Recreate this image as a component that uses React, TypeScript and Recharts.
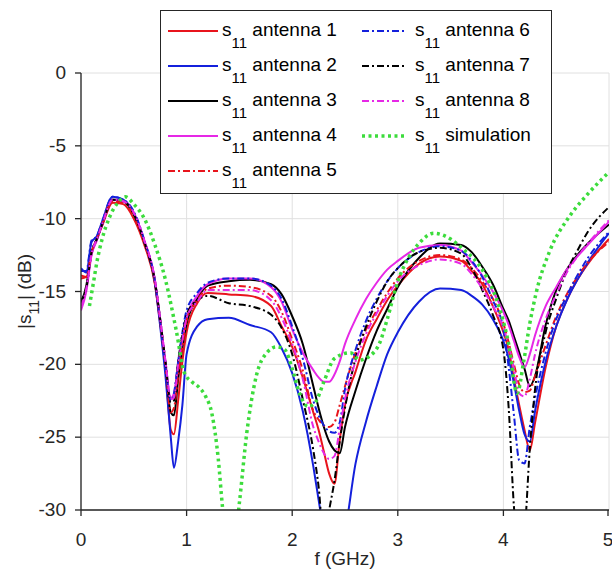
import { LineChart, Line, XAxis, YAxis, CartesianGrid, Legend, Label } from 'recharts'

// frequency grid (GHz) shared by the measured antennas
const freq = [
  0, 0.05, 0.1, 0.15, 0.2, 0.3, 0.4, 0.5, 0.6, 0.7,
  0.75, 0.8, 0.85, 0.88, 0.92, 0.96, 1.0, 1.1, 1.2, 1.4,
  1.6, 1.8, 1.9, 2.0, 2.1, 2.2, 2.25, 2.3, 2.35, 2.4,
  2.45, 2.5, 2.6, 2.7, 2.8, 2.9, 3.0, 3.2, 3.4, 3.6,
  3.7, 3.8, 3.9, 4.0, 4.05, 4.1, 4.15, 4.2, 4.25, 4.3,
  4.4, 4.5, 4.6, 4.7, 4.8, 5.0,
]

// |s11| in dB, measured
const ant1 = [
  -13.9, -14.0, -12.3, -11.4, -10.5, -8.9, -9.0, -10.0, -11.8, -14.5,
  -17.2, -20.3, -24.5, -24.8, -22.5, -19.8, -17.8, -15.8, -15.1, -15.2,
  -15.3, -16.0, -17.4, -18.8, -20.9, -23.3, -24.5, -26.0, -27.5, -28.2,
  -25.2, -22.8, -20.5, -18.3, -16.9, -15.6, -14.6, -13.1, -12.6, -12.9,
  -13.6, -14.5, -16.0, -17.8, -19.0, -21.0, -22.8, -24.5, -25.9, -24.0,
  -20.2, -17.4, -15.6, -14.2, -13.1, -11.4,
]
const ant2 = [
  -13.4, -13.7, -11.6, -11.2, -10.2, -8.5, -8.7, -9.6, -11.6, -14.4,
  -17.4, -20.8, -25.0, -27.1, -25.3, -22.8, -19.3, -17.4, -16.9, -16.8,
  -17.3, -17.8, -18.9, -20.6, -23.2, -27.0, -29.3, -31.5, -33.0, -34.0,
  -33.0, -31.5, -26.8, -23.9, -21.5, -19.3, -17.8, -15.7, -14.8, -14.9,
  -15.3, -15.9, -16.9, -18.4, -19.6, -21.3, -23.2, -24.8, -25.3, -23.2,
  -19.8, -17.4, -15.6, -14.2, -13.0, -11.0,
]
const ant3 = [
  -15.8, -14.6, -12.4, -11.4, -10.4, -8.7, -8.8, -9.7, -11.6, -14.3,
  -17.0, -20.0, -23.3, -23.5, -21.0, -18.8, -17.2, -15.5, -14.6, -14.3,
  -14.2, -14.5, -15.2, -16.7, -18.6, -21.5, -23.0, -24.3, -25.3, -25.9,
  -26.1, -24.3, -21.8, -19.6, -17.7, -16.2, -14.7, -12.7, -11.7, -11.8,
  -12.3, -13.3, -14.5, -16.2, -17.0, -18.1, -19.2, -20.3, -21.5, -20.8,
  -17.3, -14.9, -13.5, -12.5, -11.7, -10.4,
]
const ant4 = [
  -16.3, -15.0, -12.5, -11.5, -10.4, -8.7, -8.8, -9.6, -11.5, -14.2,
  -16.9, -19.8, -22.3, -22.0, -20.0, -18.3, -16.8, -15.3, -14.5, -14.1,
  -14.1, -14.7, -15.7, -17.6, -19.2, -20.4, -20.9, -21.2, -21.2, -20.7,
  -19.8, -18.6, -16.9, -15.5, -14.4, -13.5, -12.9, -12.0, -11.8, -12.2,
  -13.0, -13.9, -15.0, -16.4, -17.3, -18.4, -19.5, -20.2, -19.3, -18.0,
  -16.0, -14.7, -13.5, -12.6, -11.8, -10.2,
]
const ant5 = [
  -14.1, -14.0, -12.3, -11.4, -10.4, -8.8, -8.9, -9.8, -11.7, -14.4,
  -17.1, -20.1, -23.3, -23.0, -20.8, -18.8, -17.0, -15.6, -14.8, -14.6,
  -14.7, -15.3, -16.4, -18.3, -20.4, -23.2, -23.8, -24.2, -24.3, -24.0,
  -22.8, -21.5, -19.2, -17.6, -16.3, -15.1, -14.1, -12.9, -12.5, -12.8,
  -13.4, -14.3, -15.5, -17.2, -18.5, -20.0, -21.4, -21.9, -21.8, -20.8,
  -18.7, -16.7, -15.2, -14.0, -13.0, -11.6,
]
const ant6 = [
  -13.6, -13.6, -11.5, -11.2, -10.2, -8.5, -8.7, -9.5, -11.5, -14.3,
  -17.1, -20.2, -22.5, -22.0, -19.8, -17.8, -16.3, -15.1, -14.4, -14.1,
  -14.1, -14.6, -15.5, -17.4, -19.6, -22.5, -23.5, -24.2, -24.6, -24.7,
  -24.0, -21.7, -19.0, -17.0, -15.5, -14.3, -13.4, -12.3, -11.9, -12.2,
  -12.9, -14.0, -15.6, -17.6, -20.2, -23.5, -26.6, -26.8, -24.3, -22.3,
  -19.2, -16.9, -15.3, -13.9, -12.7, -10.9,
]
const ant7 = [
  -15.6, -14.8, -12.3, -11.4, -10.4, -8.7, -8.8, -9.7, -11.6, -14.3,
  -16.9, -19.8, -22.6, -22.5, -19.8, -18.0, -16.6, -15.6, -15.3, -15.8,
  -16.0, -16.6, -17.5, -19.3, -22.4, -25.9, -28.4, -32.0, -30.0, -28.0,
  -25.3, -23.0, -19.6, -17.4, -15.7, -14.3, -13.4, -12.3, -12.0, -12.4,
  -13.4, -14.9, -16.6, -19.0, -23.0, -29.8, -33.0, -31.5, -25.8, -21.7,
  -17.8, -15.5, -13.6, -12.2, -10.9, -9.2,
]
const ant8 = [
  -16.0, -14.8, -12.4, -11.4, -10.4, -8.7, -8.8, -9.6, -11.5, -14.2,
  -16.9, -19.8, -22.4, -22.3, -20.0, -18.3, -16.8, -15.7, -14.9, -14.9,
  -14.9, -15.6, -16.8, -18.6, -21.0, -24.3, -25.3, -26.1, -26.5, -26.3,
  -24.4, -22.4, -19.8, -17.9, -16.5, -15.3, -14.3, -13.2, -12.8, -13.1,
  -13.8, -14.8, -16.0, -17.5, -18.7, -20.3, -22.0, -22.2, -21.0, -19.3,
  -16.9, -15.2, -13.7, -12.6, -11.7, -10.1,
]

// simulation has its own frequency points
const simFreq = [
  0.08, 0.12, 0.15, 0.2, 0.27, 0.35, 0.42, 0.5, 0.6, 0.7,
  0.8, 0.9, 0.98, 1.05, 1.12, 1.18, 1.24, 1.3, 1.34, 1.42,
  1.5, 1.57, 1.66, 1.76, 1.85, 1.93, 2.0, 2.07, 2.15, 2.22,
  2.3, 2.4, 2.55, 2.64, 2.74, 2.83, 2.9, 3.0, 3.1, 3.2,
  3.34, 3.5, 3.62, 3.75, 3.84, 3.97, 4.05, 4.13, 4.19, 4.25,
  4.31, 4.44, 4.62, 4.8, 5.0,
]
const simVals = [
  -16.0, -14.3, -13.0, -11.4, -9.9, -8.9, -8.5, -9.0, -10.0, -11.8,
  -14.2, -17.6, -20.6, -21.2, -21.6, -22.2, -23.4, -26.5, -29.8, -34.0,
  -29.5, -24.7, -20.8, -19.2, -18.8, -19.0, -20.3, -22.0, -22.9, -22.6,
  -21.2, -19.6, -19.2, -19.7, -19.4, -18.5, -16.9, -14.3, -12.7, -11.7,
  -11.0, -11.4, -12.1, -13.0, -14.0, -16.3, -18.6, -22.0, -19.9, -17.2,
  -15.1, -12.2, -9.9, -8.3, -6.8,
]

const xTicks = [0, 1, 2, 3, 4, 5]
const yTicks = [-30, -25, -20, -15, -10, -5, 0]

const antennas = [ant1, ant2, ant3, ant4, ant5, ant6, ant7, ant8]
const data = freq.map((f, i) => {
  const row: Record<string, number> = { f }
  antennas.forEach((a, k) => { row['a' + (k + 1)] = a[i] })
  return row
})
const simData = simFreq.map((f, i) => ({ f, sim: simVals[i] }))

const RED = '#e8141c'
const BLUE = '#1420dc'
const BLACK = '#000000'
const MAGENTA = '#e628e6'
const GREEN = '#3cdc3c'
const AXIS = '#262626'
const FONT = '"Liberation Sans", Arial, sans-serif'
const DASHDOT = '7 3 2 3'
const DOTS = '3 3.5'

const series = [
  { key: 'a1', label: 'antenna 1', color: RED, dash: undefined },
  { key: 'a2', label: 'antenna 2', color: BLUE, dash: undefined },
  { key: 'a3', label: 'antenna 3', color: BLACK, dash: undefined },
  { key: 'a4', label: 'antenna 4', color: MAGENTA, dash: undefined },
  { key: 'a5', label: 'antenna 5', color: RED, dash: DASHDOT },
  { key: 'a6', label: 'antenna 6', color: BLUE, dash: DASHDOT },
  { key: 'a7', label: 'antenna 7', color: BLACK, dash: DASHDOT },
  { key: 'a8', label: 'antenna 8', color: MAGENTA, dash: DASHDOT },
  { key: 'sim', label: 'simulation', color: GREEN, dash: DOTS },
]

const YTick = ({ x, y, payload }: any) => (
  <g>
    <line x1={x + 9} x2={x + 15} y1={y} y2={y} stroke={AXIS} strokeWidth={1.3} />
    <text x={x} y={y} dy={6} textAnchor="end" fontSize={19} fontFamily={FONT} fill={AXIS}>
      {payload.value}
    </text>
  </g>
)

const XTick = ({ x, y, payload }: any) => (
  <g>
    <line x1={x} x2={x} y1={y - 10} y2={y - 16} stroke={AXIS} strokeWidth={1.3} />
    <text x={x} y={y + 20} textAnchor="middle" fontSize={19} fontFamily={FONT} fill={AXIS}>
      {payload.value}
    </text>
  </g>
)

const LegendBox = () => (
  <svg width={392} height={184} style={{ display: 'block' }}>
    <rect x={0.5} y={0.5} width={391} height={183} fill="#fff" stroke={AXIS} strokeWidth={1} />
    {series.map((s, i) => {
      const col = i < 5 ? 0 : 1
      const row = col ? i - 5 : i
      const y = 21 + row * 35
      const lx = col ? 202 : 8
      const lw = col ? 45 : 50
      const tx = col ? 255 : 62
      return (
        <g key={s.key}>
          <line x1={lx} x2={lx + lw} y1={y} y2={y} stroke={s.color}
            strokeWidth={s.key === 'sim' ? 3.5 : 2} strokeDasharray={s.dash} />
          <text x={tx} y={y + 5} fontSize={19} fontFamily={FONT} fill="#000">
            <tspan>s</tspan>
            <tspan dy={12} fontSize={15}>11</tspan>
            <tspan dy={-12}>{' ' + s.label}</tspan>
          </text>
        </g>
      )
    })}
  </svg>
)

const YLabel = ({ viewBox }: any) => {
  const cx = 31
  const cy = viewBox.y + viewBox.height / 2
  return (
    <text x={cx} y={cy} transform={`rotate(-90, ${cx}, ${cy})`} textAnchor="middle"
      fontSize={19} fontFamily={FONT} fill={AXIS}>
      <tspan>|s</tspan>
      <tspan dy={8} fontSize={14}>11</tspan>
      <tspan dy={-8}>| (dB)</tspan>
    </text>
  )
}

const XLabel = ({ viewBox }: any) => (
  <text x={viewBox.x + viewBox.width / 2} y={565} textAnchor="middle"
    fontSize={19} fontFamily={FONT} fill={AXIS}>
    f (GHz)
  </text>
)

export default function App() {
  return (
    <div style={{ position: 'absolute', left: 0, top: 0, width: 612, height: 570, background: '#fff' }}>
      <LineChart width={612} height={570} data={data}
        margin={{ top: 73, right: 3, left: 0, bottom: 0 }}>
        <CartesianGrid stroke="#e0e0e0" strokeWidth={1} />
        <XAxis dataKey="f" type="number" domain={[0, 5]} ticks={xTicks} allowDataOverflow
          height={60} tickLine={false} tickMargin={10} tick={<XTick />}
          axisLine={{ stroke: AXIS, strokeWidth: 1.3 }}>
          <Label content={<XLabel />} />
        </XAxis>
        <YAxis type="number" domain={[-30, 0]} ticks={yTicks} allowDataOverflow
          width={81} tickLine={false} tickMargin={9} tick={<YTick />}
          axisLine={{ stroke: AXIS, strokeWidth: 1.3 }}>
          <Label content={<YLabel />} />
        </YAxis>
        {series.slice(0, 8).map((s) => (
          <Line key={s.key} dataKey={s.key} type="monotone" stroke={s.color} strokeWidth={2}
            strokeDasharray={s.dash} dot={false} isAnimationActive={false} />
        ))}
        <Line data={simData} dataKey="sim" type="monotone" stroke={GREEN} strokeWidth={3.5}
          strokeDasharray={DOTS} dot={false} isAnimationActive={false} />
        <Legend layout="horizontal" verticalAlign="middle" align="center"
          wrapperStyle={{ left: 160, top: 10, width: 392, height: 184 }}
          content={() => <LegendBox />} />
      </LineChart>
    </div>
  )
}
